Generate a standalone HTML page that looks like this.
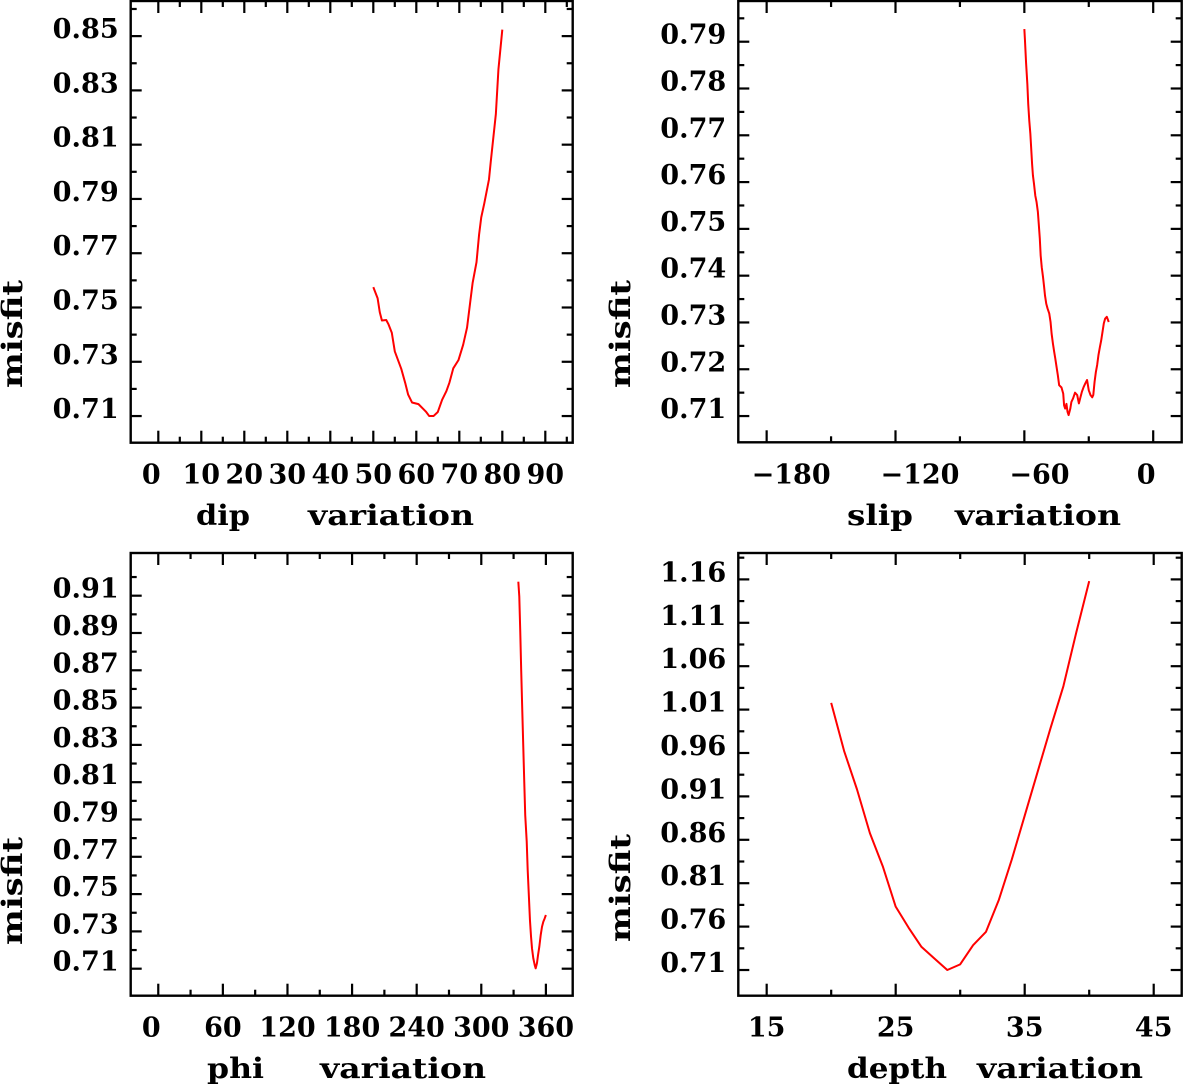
<!DOCTYPE html>
<html><head><meta charset="utf-8"><style>
html,body{margin:0;padding:0;background:#fff;}
svg{display:block;}
text{font-family:"DejaVu Serif","Liberation Serif",serif;fill:#000;font-weight:bold;}
</style></head>
<body>
<svg id="chart" width="1183" height="1086" viewBox="0 0 1183 1086" xmlns="http://www.w3.org/2000/svg"></svg>
<script>
// ---- Panel 1: dip variation ----
const dipX = [50,51,51.5,52,53,53.5,54.3,55,56.5,57.4,58.1,59,60.5,61.5,62.3,63,64,65,66,67,67.7,68.6,69.8,70.9,71.8,72.5,73.1,74,74.6,75.1,75.8,76.9,77.3,77.9,78.5,79.1,80];
const dipMisfit = [0.7575,0.7534,0.7483,0.7452,0.7454,0.7439,0.7407,0.7338,0.7274,0.7223,0.7179,0.7150,0.7144,0.7128,0.7115,0.7100,0.7100,0.7115,0.7160,0.7192,0.7223,0.7276,0.7306,0.7363,0.7426,0.7515,0.7591,0.7667,0.7769,0.7832,0.7883,0.7972,0.8035,0.8124,0.8213,0.8378,0.8524];
const dipXTicks = [0,10,20,30,40,50,60,70,80,90];
const dipYTicks = [0.71,0.73,0.75,0.77,0.79,0.81,0.83,0.85];
// ---- Panel 2: slip variation ----
const slipX = [-60,-59.7,-59.2,-58.6,-58.2,-57.7,-57.2,-56.8,-56.4,-56,-55.5,-54.9,-54.3,-53.7,-53.3,-52.8,-52.4,-51.9,-51.3,-50.8,-50.4,-49.8,-49.2,-48.4,-47.8,-47.3,-46.7,-46.1,-45.6,-45,-44.4,-43.8,-42.7,-41.9,-41.5,-41,-40.4,-39.9,-39.4,-38.6,-38.1,-37.3,-36.4,-35.4,-34.6,-34,-33.2,-32.4,-31.6,-30.8,-30,-29.2,-28.4,-27.9,-27.3,-26.7,-26.1,-25.5,-24.8,-24.2,-23.6,-23,-22.4,-21.6,-20.7];
const slipMisfit = [0.7927,0.7902,0.7855,0.7809,0.7767,0.7731,0.7703,0.7671,0.7639,0.7614,0.7596,0.7571,0.7557,0.7536,0.7511,0.7479,0.7443,0.7418,0.7397,0.7376,0.7358,0.7340,0.7330,0.7319,0.7301,0.7276,0.7255,0.7237,0.7223,0.7205,0.7187,0.7166,0.7161,0.7148,0.7123,0.7116,0.7126,0.7109,0.7102,0.7116,0.7130,0.7138,0.7150,0.7145,0.7127,0.7138,0.7152,0.7162,0.7170,0.7177,0.7155,0.7145,0.7140,0.7145,0.7173,0.7194,0.7209,0.7230,0.7248,0.7262,0.7280,0.7298,0.7308,0.7312,0.7301];
const slipXTicks = [-180,-120,-60,0];
const slipYTicks = [0.71,0.72,0.73,0.74,0.75,0.76,0.77,0.78,0.79];
// ---- Panel 3: phi variation ----
const phiX = [334.4,335.3,336.2,337.1,338.1,339,339.9,340.8,342.2,343.1,344.3,345.2,346.2,347.1,348.3,349.6,350.5,351.7,352.7,353.9,355.2,356.4,357.6,358.9,360];
const phiMisfit = [0.9175,0.9095,0.8907,0.8693,0.8478,0.8290,0.8103,0.7924,0.7781,0.7629,0.7477,0.7361,0.7272,0.7209,0.7156,0.7120,0.7102,0.7129,0.7173,0.7218,0.7281,0.7325,0.7352,0.7370,0.7388];
const phiXTicks = [0,60,120,180,240,300,360];
const phiYTicks = [0.71,0.73,0.75,0.77,0.79,0.81,0.83,0.85,0.87,0.89,0.91];
// ---- Panel 4: depth variation ----
const depthX = [20,21,22,23,24,25,26,27,28,29,30,31,32,33,34,35,36,37,38,39,40];
const depthMisfit = [1.0177,0.9624,0.9181,0.8677,0.8294,0.7830,0.7588,0.7366,0.7233,0.7100,0.7165,0.7386,0.7540,0.7910,0.8374,0.8878,0.9382,0.9886,1.037,1.099,1.158];
const depthXTicks = [15,25,35,45];
const depthYTicks = [0.71,0.76,0.81,0.86,0.91,0.96,1.01,1.06,1.11,1.16];

const NS = "http://www.w3.org/2000/svg";
const svg = document.getElementById('chart');
function mk(tag, attrs, parent){
  const e = document.createElementNS(NS, tag);
  for (const k in attrs) e.setAttribute(k, attrs[k]);
  (parent||svg).appendChild(e);
  return e;
}

function drawPanel(p){
  const g = mk('g', {});
  
  
  const sx = v => p.L + (v - p.xmin) / (p.xmax - p.xmin) * (p.R - p.L);
  const sy = v => p.B - (v - p.ymin) / (p.ymax - p.ymin) * (p.B - p.T);
  const frame = mk('rect', {x:p.L, y:p.T, width:p.R-p.L, height:p.B-p.T, fill:'none', stroke:'#000', 'stroke-width':2.4}, g);
  
  
  const xStep = p.xTicks[1] - p.xTicks[0];
  p.xTicks.forEach((v, i) => {
    const x = sx(v);
    mk('line', {x1:x, x2:x, y1:p.B, y2:p.B-12, stroke:'#000','stroke-width':2.2}, g);
    mk('line', {x1:x, x2:x, y1:p.T, y2:p.T+12, stroke:'#000','stroke-width':2.2}, g);
    const m = v + xStep/2;
    if (m < p.xmax) {
      const xm = sx(m);
      mk('line', {x1:xm, x2:xm, y1:p.B, y2:p.B-6, stroke:'#000','stroke-width':2.2}, g);
      mk('line', {x1:xm, x2:xm, y1:p.T, y2:p.T+6, stroke:'#000','stroke-width':2.2}, g);
    }
    const lab = p.xLabels ? p.xLabels[i] : String(v);
    let t;
    if (lab.charAt(0) === '\u2212') {
      t = mk('text', {x: x - 15, y: p.B + 41, 'font-size':27, 'text-anchor':'start'}, g);
    } else {
      t = mk('text', {x: x - (lab.length === 1 ? 7 : 0), y: p.B + 41, 'font-size':27, 'text-anchor':'middle'}, g);
    }
    t.textContent = lab;
    
    
  });
  const yStep = p.yTicks[1] - p.yTicks[0];
  p.yTicks.forEach((v, i) => {
    const y = sy(v);
    mk('line', {x1:p.L, x2:p.L+11, y1:y, y2:y, stroke:'#000','stroke-width':2.2}, g);
    mk('line', {x1:p.R, x2:p.R-11, y1:y, y2:y, stroke:'#000','stroke-width':2.2}, g);
    const m = v + yStep/2;
    if (m < p.ymax) {
      const ym = sy(m);
      mk('line', {x1:p.L, x2:p.L+6, y1:ym, y2:ym, stroke:'#000','stroke-width':2.2}, g);
      mk('line', {x1:p.R, x2:p.R-6, y1:ym, y2:ym, stroke:'#000','stroke-width':2.2}, g);
    }
    const t = mk('text', {x: p.L - 12, y: y + 2, 'font-size':27, 'text-anchor':'end', textLength:66, lengthAdjust:'spacingAndGlyphs'}, g);
    t.textContent = v.toFixed(2);
    
    
  });
  const d = p.xs.map((v, i) => (i ? 'L' : 'M') + sx(v).toFixed(2) + ' ' + sy(p.ys[i]).toFixed(2)).join(' ');
  const path = mk('path', {d: d, fill:'none', stroke:'#ff0000', 'stroke-width':2, 'stroke-linejoin':'round'}, g);
  
  
  const t1 = mk('text', {x:p.t1x, y:p.ty, 'font-size':28, textLength:p.t1w, lengthAdjust:'spacingAndGlyphs'}, g);
  t1.textContent = p.name;
  
  
  const t2 = mk('text', {x:p.t2x, y:p.ty, 'font-size':28, textLength:p.t2w, lengthAdjust:'spacingAndGlyphs'}, g);
  t2.textContent = 'variation';
  
  
  const yt = mk('text', {x:0, y:0, 'font-size':28, 'text-anchor':'middle', textLength:108, lengthAdjust:'spacingAndGlyphs', transform:'translate(' + p.mx + ',' + p.my + ') rotate(-90)'}, g);
  yt.textContent = 'misfit';
  
  
}

drawPanel({name:'dip', L:130.7, R:572.7, T:1, B:442.7, xmin:-6.42, xmax:96.37, ymin:0.70018, ymax:0.86294,
  xTicks:dipXTicks, yTicks:dipYTicks, xs:dipX, ys:dipMisfit,
  t1x:196, t1w:54, t2x:308, t2w:166, ty:525, mx:22, my:334});
drawPanel({name:'slip', L:738.3, R:1181.7, T:1, B:442.3, xmin:-193.2, xmax:13.27, ymin:0.70439, ymax:0.7987,
  xTicks:slipXTicks, xLabels:['\u2212180','\u2212120','\u221260','0'], yTicks:slipYTicks, xs:slipX, ys:slipMisfit,
  t1x:847, t1w:66, t2x:955, t2w:166, ty:525, mx:630, my:334});
drawPanel({name:'phi', L:130.7, R:572.7, T:553, B:995.7, xmin:-25.6, xmax:384.9, ymin:0.69552, ymax:0.93289,
  xTicks:phiXTicks, yTicks:phiYTicks, xs:phiX, ys:phiMisfit,
  t1x:207, t1w:57, t2x:320, t2w:166, ty:1078, mx:22, my:891});
drawPanel({name:'depth', L:738.3, R:1181.7, T:553, B:995.7, xmin:12.8, xmax:47.17, ymin:0.6804, ymax:1.1904,
  xTicks:depthXTicks, yTicks:depthYTicks, xs:depthX, ys:depthMisfit,
  t1x:847, t1w:100, t2x:977, t2w:166, ty:1078, mx:630, my:888});
</script>
</body></html>
